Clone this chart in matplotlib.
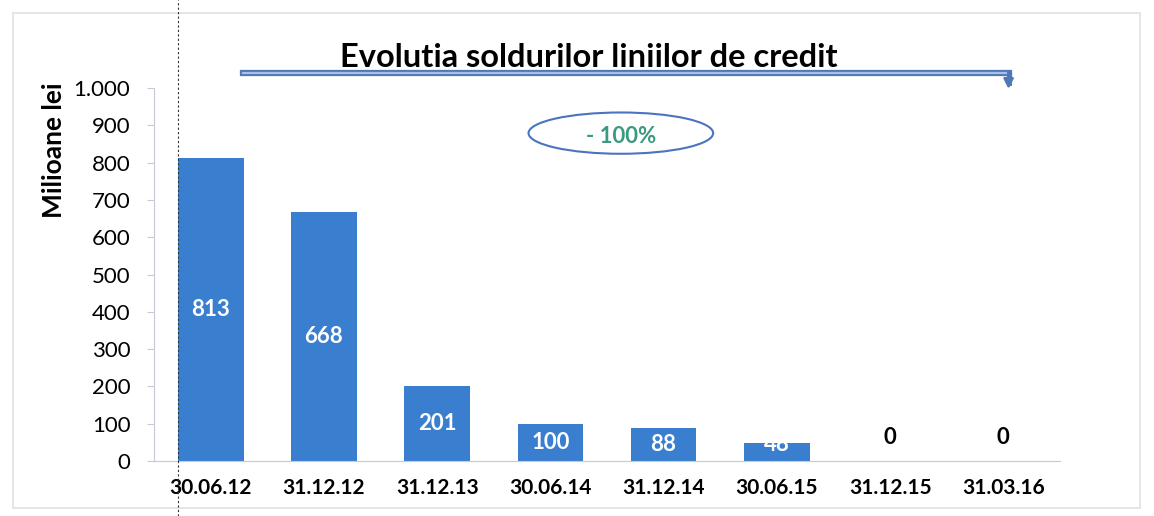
import matplotlib.pyplot as plt
from matplotlib.patches import Ellipse, Rectangle

plt.rcParams['font.family'] = ['Lato', 'DejaVu Sans']

dates = ["30.06.12", "31.12.12", "31.12.13", "30.06.14",
         "31.12.14", "30.06.15", "31.12.15", "31.03.16"]
solduri = [813, 668, 201, 100, 88, 48, 0, 0]
yticks = [0, 100, 200, 300, 400, 500, 600, 700, 800, 900, 1000]
ytick_labels = ["0", "100", "200", "300", "400", "500", "600", "700", "800", "900", "1.000"]

fig = plt.figure(figsize=(11.54, 5.16), dpi=100)
ax = fig.add_axes([0.1335, 0.1066, 0.785, 0.7225])

x = range(len(dates))
bars = ax.bar(x, solduri, width=0.58, color="#3a7fcf")

for i, v in enumerate(solduri):
    if v > 0:
        ax.text(i, max(v / 2, 45), str(v), ha="center", va="center",
                color="white", fontsize=16, fontweight="bold")
    else:
        ax.text(i, 64, str(v), ha="center", va="center",
                color="black", fontsize=16, fontweight="bold")

ax.set_xlim(-0.5, 7.5)
ax.set_ylim(0, 1000)
ax.set_xticks(list(x))
ax.set_xticklabels(dates, fontsize=15, fontweight="bold")
ax.set_yticks(yticks)
ax.set_yticklabels(ytick_labels, fontsize=16)
ax.tick_params(axis="x", length=0, pad=12)
ax.tick_params(axis="y", length=5, color="#c8c8d8", pad=12)
ax.set_ylabel("Milioane lei", fontsize=19, fontweight="bold")
ax.yaxis.set_label_coords(-0.097, 0.834)

for s in ["top", "right"]:
    ax.spines[s].set_visible(False)
ax.spines["left"].set_color("#c8c8d8")
ax.spines["bottom"].set_color("#c8c8d8")

fig.text(0.51, 0.889, "Evolutia soldurilor liniilor de credit", ha="center",
         va="center", fontsize=23.5, fontweight="bold")

# arrow over the chart
fig.add_artist(plt.Line2D([0.211, 0.874], [0.859, 0.859], color="#4f78b8", lw=4.5))
fig.add_artist(plt.Line2D([0.211, 0.874], [0.859, 0.859], color="#a9c0e4", lw=1.6))
fig.add_artist(plt.Line2D([0.874, 0.874], [0.859, 0.84], color="#4f78b8", lw=3.5))
ax.annotate("", xy=(0.874, 0.822), xytext=(0.874, 0.845), xycoords="figure fraction",
            arrowprops=dict(arrowstyle="-|>", color="#4f78b8", lw=2, mutation_scale=14))

# ellipse with the percent change
fig.add_artist(Ellipse((0.538, 0.742), 0.16, 0.08, transform=fig.transFigure,
                       facecolor="none", edgecolor="#4a74c0", lw=1.5))
fig.text(0.538, 0.736, "- 100%", ha="center", va="center", fontsize=16,
         fontweight="bold", color="#3a9a80")

# frame and scan artifact
fig.add_artist(Rectangle((0.011, 0.015), 0.977, 0.96, transform=fig.transFigure,
                         facecolor="none", edgecolor="#e0e0e8", lw=1.2))
fig.add_artist(plt.Line2D([0.154, 0.154], [0.0, 1.0], color="#333333", lw=0.8,
                          linestyle=(0, (2, 2))))

fig.savefig("out.png", dpi=100)
